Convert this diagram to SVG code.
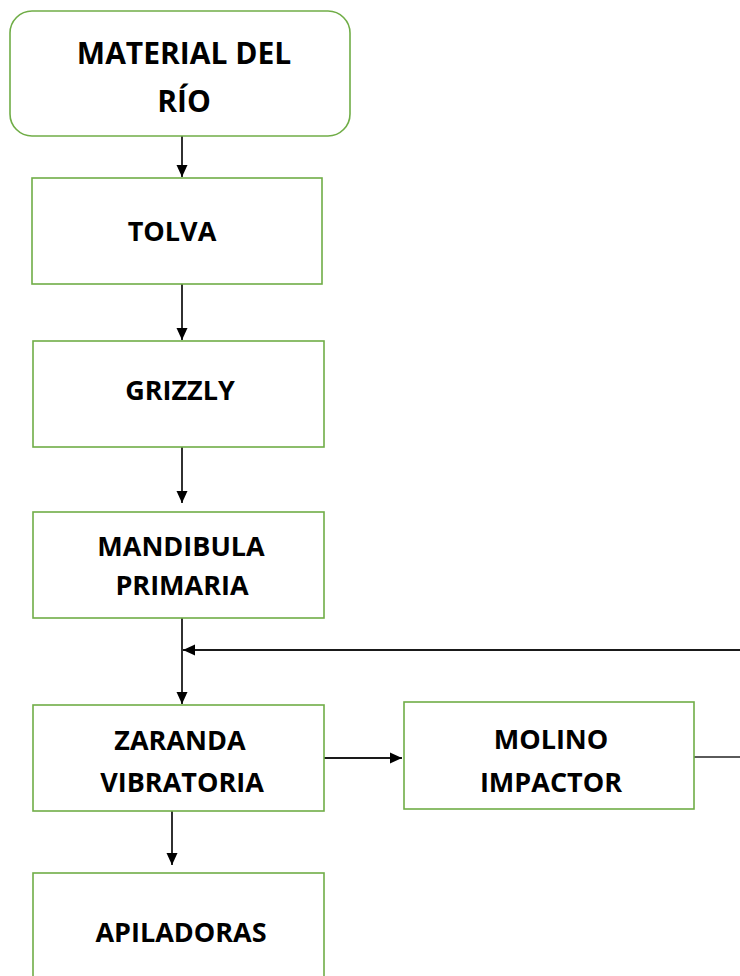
<svg xmlns="http://www.w3.org/2000/svg" width="740" height="976" viewBox="0 0 740 976">
<style>
.box{fill:#fff;stroke:#70ad47;stroke-width:1.6}
.t{font-family:"Open Sans","Liberation Sans",sans-serif;font-weight:bold;font-size:27px;fill:#000;text-anchor:middle}
.big{font-size:30px}
.ln{fill:none;stroke:#1a1a1a;stroke-width:1.8}
.gr{fill:none;stroke:#5a5a5a;stroke-width:2.2}
</style>
<defs>
<marker id="ah" viewBox="0 0 12 12" refX="12" refY="6" markerWidth="12" markerHeight="12" markerUnits="userSpaceOnUse" orient="auto">
<path d="M0,0.5 L12,6 L0,11.5 Z" fill="#000"/>
</marker>
</defs>
<rect width="740" height="976" fill="#fff"/>
<g id="connectors">
<line class="ln" x1="182" y1="136" x2="182" y2="177" marker-end="url(#ah)"/>
<line class="ln" x1="182" y1="284" x2="182" y2="340" marker-end="url(#ah)"/>
<line class="ln" x1="182" y1="447" x2="182" y2="503" marker-end="url(#ah)"/>
<line class="ln" x1="182" y1="618" x2="182" y2="704" marker-end="url(#ah)"/>
<line class="ln" x1="740" y1="650" x2="183" y2="650" marker-end="url(#ah)"/>
<line class="ln" x1="324" y1="758" x2="402" y2="758" marker-end="url(#ah)"/>
<line class="gr" x1="694" y1="757" x2="740" y2="757"/>
<line class="ln" x1="172" y1="811" x2="172" y2="865" marker-end="url(#ah)"/>
</g>
<g id="material">
<rect class="box" x="10" y="11" width="340" height="125" rx="22"/>
<text class="t big" x="184" y="64">MATERIAL DEL</text>
<text class="t big" x="184" y="112">RÍO</text>
</g>
<g id="tolva">
<rect class="box" x="32" y="178" width="290" height="106"/>
<text class="t" x="172" y="241">TOLVA</text>
</g>
<g id="grizzly">
<rect class="box" x="33" y="341" width="291" height="106"/>
<text class="t" x="180" y="400">GRIZZLY</text>
</g>
<g id="mandibula">
<rect class="box" x="33" y="512" width="291" height="106"/>
<text class="t" x="181" y="556">MANDIBULA</text>
<text class="t" x="182" y="595">PRIMARIA</text>
</g>
<g id="zaranda">
<rect class="box" x="33" y="705" width="291" height="106"/>
<text class="t" x="180" y="750">ZARANDA</text>
<text class="t" x="182" y="792">VIBRATORIA</text>
</g>
<g id="molino">
<rect class="box" x="404" y="702" width="290" height="107"/>
<text class="t" x="551" y="749">MOLINO</text>
<text class="t" x="551" y="792">IMPACTOR</text>
</g>
<g id="apiladoras">
<rect class="box" x="33" y="873" width="291" height="130"/>
<text class="t" x="181" y="942">APILADORAS</text>
</g>
</svg>
